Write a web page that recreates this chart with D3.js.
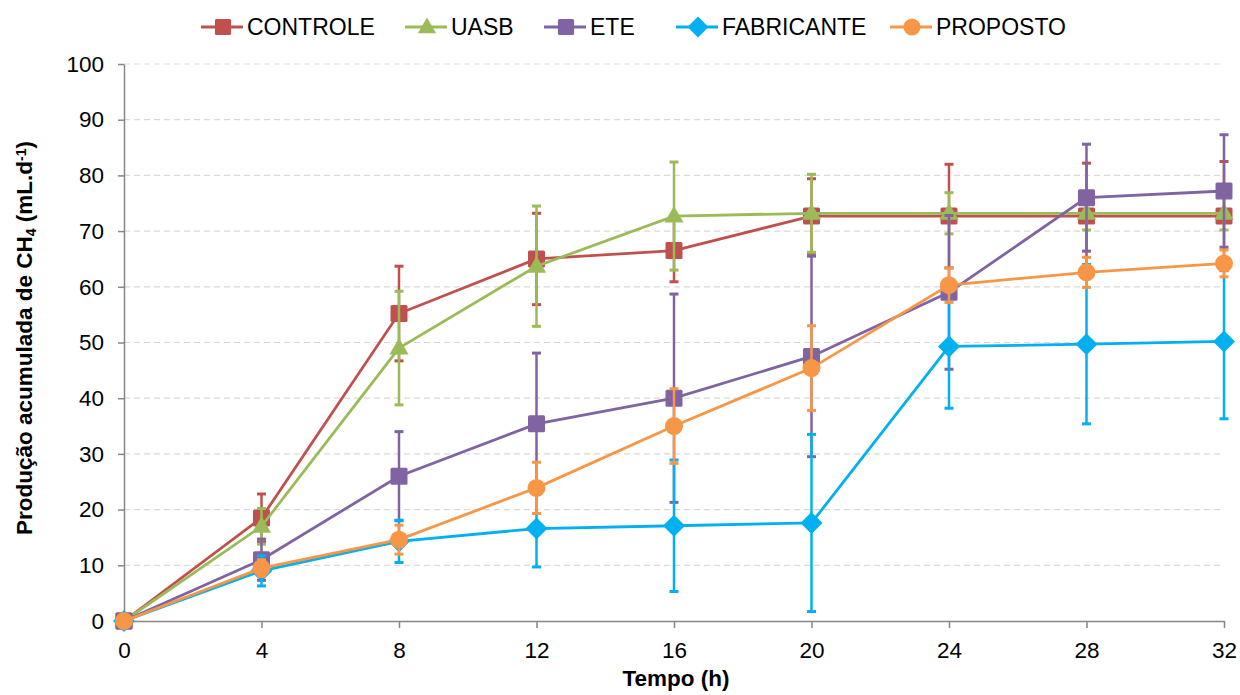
<!DOCTYPE html>
<html lang="pt">
<head>
<meta charset="UTF-8">
<title>Produção acumulada de CH4</title>
<script src="https://d3js.org/d3.v7.min.js"></script>
<style>
  body { margin: 0; background: #fff; font-family: 'Liberation Sans', Arial, sans-serif; }
  .grid line { stroke: #d9d9d9; stroke-dasharray: 6,4; stroke-width: 1.2px; }
  .axis path, .axis line { stroke: #868686; stroke-width: 1.5px; }
  .axis text { font-size: 22.5px; fill: #000; font-family: 'Liberation Sans', Arial, sans-serif; }
  .title { font-size: 22.5px; font-weight: bold; }
  .legend text { font-size: 23px; }
</style>
</head>
<body>
<div id="chart"></div>
<script>
// time (h)
const tempo = [0, 4, 8, 12, 16, 20, 24, 28, 32];
const yTicks = [0, 10, 20, 30, 40, 50, 60, 70, 80, 90, 100];

// mean values
const controle   = [0, 18.5, 55.2, 65.0, 66.5, 72.7, 72.7, 72.7, 72.7];
const uasb       = [0, 17.0, 49.0, 63.7, 72.7, 73.2, 73.2, 73.2, 73.2];
const ete        = [0, 11.0, 26.0, 35.4, 40.0, 47.5, 59.0, 76.0, 77.2];
const fabricante = [0, 9.0, 14.3, 16.6, 17.1, 17.6, 49.3, 49.7, 50.2];
const proposto   = [0, 9.5, 14.6, 23.9, 35.0, 45.4, 60.3, 62.6, 64.2];

// error (+/-) values
const errControle   = [0, 4.3, 8.5, 8.2, 5.6, 6.7, 9.3, 9.5, 9.8];
const errUasb       = [0, 3.2, 10.2, 10.8, 9.7, 7.0, 3.7, 3.0, 3.0];
const errEte        = [0, 3.7, 8.0, 12.7, 18.7, 18.0, 13.8, 9.6, 10.1];
const errFabricante = [0, 2.7, 3.8, 6.9, 11.8, 15.9, 11.1, 14.3, 13.9];
const errProposto   = [0, 1.5, 2.6, 4.6, 6.7, 7.6, 3.1, 2.7, 2.4];

const seriesNames = ["CONTROLE", "UASB", "ETE", "FABRICANTE", "PROPOSTO"];
const seriesColors = ["#C0504D", "#9BBB59", "#8064A2", "#00B0F0", "#F79646"];
const seriesShapes = ["square", "triangle", "square", "diamond", "circle"];
const seriesValues = [controle, uasb, ete, fabricante, proposto];
const seriesErrors = [errControle, errUasb, errEte, errFabricante, errProposto];

const width = 1240, height = 695;
const margin = {top: 64, right: 16, bottom: 74, left: 124};

const svg = d3.select("#chart").append("svg")
    .attr("width", width)
    .attr("height", height);

const x = d3.scaleLinear().domain([0, 32]).range([margin.left, width - margin.right]);
const y = d3.scaleLinear().domain([0, 100]).range([height - margin.bottom, margin.top]);

// grid lines
svg.append("g")
    .attr("class", "grid")
    .selectAll("line")
    .data(yTicks.filter(d => d > 0))
    .enter().append("line")
    .attr("x1", x(0))
    .attr("x2", x(32))
    .attr("y1", d => y(d))
    .attr("y2", d => y(d));

// axes
svg.append("g")
    .attr("class", "axis")
    .attr("transform", "translate(" + x(0) + ",0)")
    .call(d3.axisLeft(y).tickValues(yTicks).tickSize(6).tickPadding(14).tickSizeOuter(0));

svg.append("g")
    .attr("class", "axis")
    .attr("transform", "translate(0," + y(0) + ")")
    .call(d3.axisBottom(x).tickValues(tempo).tickSize(7).tickPadding(14).tickSizeOuter(0));

// axis titles
svg.append("text")
    .attr("class", "title")
    .attr("x", (x(0) + x(32)) / 2 + 2)
    .attr("y", 686)
    .attr("text-anchor", "middle")
    .text("Tempo (h)");

const yTitle = svg.append("text")
    .attr("class", "title")
    .attr("transform", "translate(32,338) rotate(-90)")
    .attr("text-anchor", "middle");
yTitle.append("tspan").text("Produção acumulada de CH");
yTitle.append("tspan").attr("baseline-shift", "-25%").attr("font-size", "14px").text("4");
yTitle.append("tspan").text(" (mL.d");
yTitle.append("tspan").attr("baseline-shift", "40%").attr("font-size", "14px").text("-1");
yTitle.append("tspan").text(")");

// marker drawing
function drawMarker(g, shape, color, cx, cy, k) {
    k = k || 1;
    if (shape === "square") {
        g.append("rect")
            .attr("x", cx - 8.5 * k).attr("y", cy - 8.5 * k)
            .attr("width", 17 * k).attr("height", 17 * k)
            .attr("rx", 1.5)
            .attr("fill", color);
    } else if (shape === "triangle") {
        g.append("path")
            .attr("d", d3.symbol().type(d3.symbolTriangle).size(160 * k * k)())
            .attr("transform", "translate(" + cx + "," + (cy + 1) + ")")
            .attr("fill", color);
    } else if (shape === "diamond") {
        g.append("path")
            .attr("d", "M0,-11L11,0L0,11L-11,0Z")
            .attr("transform", "translate(" + cx + "," + cy + ") scale(" + k + ")")
            .attr("fill", color);
    } else {
        g.append("circle")
            .attr("cx", cx).attr("cy", cy).attr("r", 9 * k)
            .attr("fill", color);
    }
}

const line = d3.line()
    .x((d, i) => x(tempo[i]))
    .y(d => y(d));

seriesNames.forEach(function(name, s) {
    const color = seriesColors[s];
    const vals = seriesValues[s];
    const errs = seriesErrors[s];
    const g = svg.append("g");

    // error bars
    vals.forEach(function(v, i) {
        if (!errs[i]) return;
        const cx = x(tempo[i]);
        const y1 = y(v + errs[i]), y2 = y(v - errs[i]);
        g.append("line")
            .attr("x1", cx).attr("x2", cx).attr("y1", y1).attr("y2", y2)
            .attr("stroke", color).attr("stroke-width", 2.5);
        [y1, y2].forEach(function(yy) {
            g.append("line")
                .attr("x1", cx - 4.5).attr("x2", cx + 4.5).attr("y1", yy).attr("y2", yy)
                .attr("stroke", color).attr("stroke-width", 3);
        });
    });

    // line
    g.append("path")
        .datum(vals)
        .attr("d", line)
        .attr("fill", "none")
        .attr("stroke", color)
        .attr("stroke-width", 2.8);

    // markers
    vals.forEach(function(v, i) {
        drawMarker(g, seriesShapes[s], color, x(tempo[i]), y(v));
    });
});

// legend
const legendX = [201, 405, 544, 676, 890];
const legend = svg.append("g").attr("class", "legend");
seriesNames.forEach(function(name, s) {
    const lx = legendX[s], ly = 27;
    legend.append("line")
        .attr("x1", lx).attr("x2", lx + 42).attr("y1", ly).attr("y2", ly)
        .attr("stroke", seriesColors[s]).attr("stroke-width", 2.8);
    drawMarker(legend, seriesShapes[s], seriesColors[s], lx + 22, ly, 0.95);
    legend.append("text")
        .attr("x", lx + 46)
        .attr("y", ly + 8)
        .text(name);
});
</script>
</body>
</html>
